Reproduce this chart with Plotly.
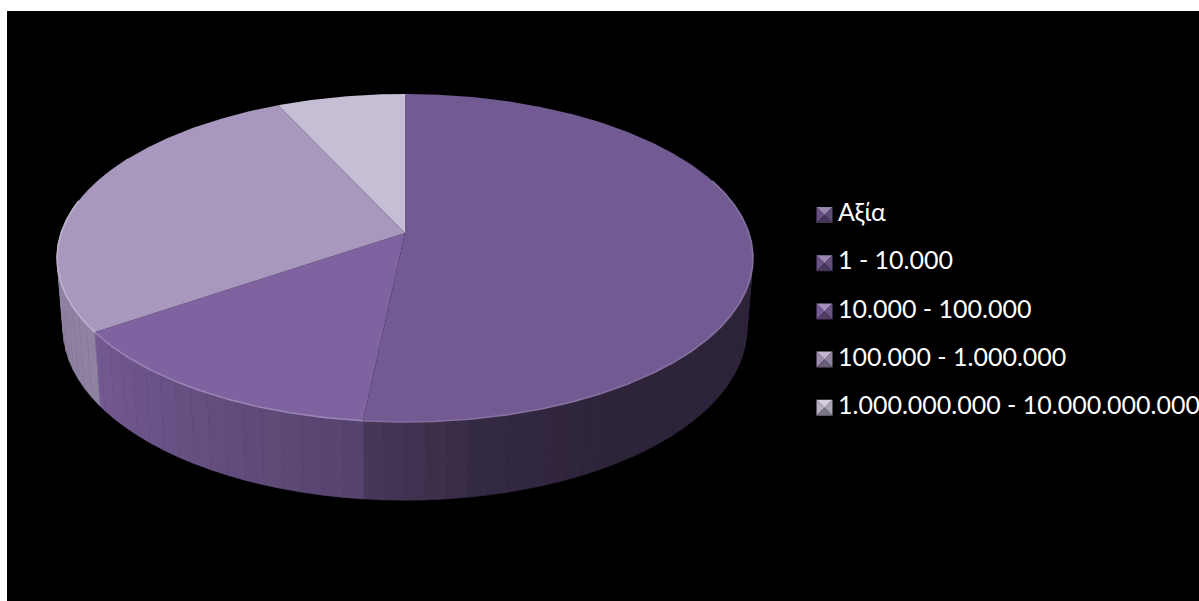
import math
import plotly.graph_objects as go

# Share of each value band, in percent
categories = ["Αξία", "1 - 10.000", "10.000 - 100.000", "100.000 - 1.000.000",
              "1.000.000.000 - 10.000.000.000"]
shares = [0, 51.7, 13.8, 27.7, 6.9]

# Slice tints
tints = [(112, 88, 144), (114, 90, 146), (127, 99, 161), (168, 152, 189), (198, 190, 213)]

W, H = 1199, 601
CX = 405
K = 0.1524  # foreshortening of the disc towards the far edge


def project(deg, level):
    """Map a clockwise angle from 12 o'clock onto the top (0) or bottom (1) disc."""
    a = math.radians(deg)
    u, v = math.sin(a), math.cos(a)
    w = 1 + K * v
    if level == 0:
        return CX + 343.9 * u / w, 233 - 160.2 * v / w
    return CX + 338 * u / w, 302 - 168 * v / w


def hexa(rgb, f=1.0):
    return "rgb(%d,%d,%d)" % tuple(min(255, max(0, round(c * f))) for c in rgb)


def mix(rgb, other, t):
    return "rgb(%d,%d,%d)" % tuple(round(c + (o - c) * t) for c, o in zip(rgb, other))


def lerp_table(table, x):
    for (x0, y0), (x1, y1) in zip(table, table[1:]):
        if x <= x1:
            return y0 + (y1 - y0) * (max(x, x0) - x0) / (x1 - x0)
    return table[-1][1]


def side_shade(deg):
    # Wall brightness around the rim: dark on the right, brighter towards the left
    if deg < 186.2:
        return lerp_table([(60, 0.39), (150, 0.40), (170, 0.47), (186, 0.62)], deg)
    if deg < 235.6:
        return lerp_table([(186, 0.68), (200, 0.74), (235, 0.90)], deg)
    return 0.85


# Cumulative slice boundaries in degrees
total = sum(shares)
bounds = [0.0]
for s in shares:
    bounds.append(bounds[-1] + 360 * s / total)

fig = go.Figure()

# Outer wall of the disc, built from narrow shaded strips
STEP = 3.0
for i, tint in enumerate(tints):
    a0, a1 = max(bounds[i], 60), min(bounds[i + 1], 300)
    a = a0
    while a < a1 - 1e-6:
        b = min(a + STEP, a1)
        pts = [project(a, 0), project(b, 0), project(b, 1), project(a, 1), project(a, 0)]
        col = hexa(tint, side_shade((a + b) / 2))
        fig.add_trace(go.Scatter(
            x=[p[0] for p in pts], y=[p[1] for p in pts], mode="lines", fill="toself",
            fillcolor=col, line=dict(color=col, width=0.6), hoverinfo="skip", showlegend=False))
        a = b

# Top faces of the slices
for i, tint in enumerate(tints):
    if shares[i] == 0:
        continue
    n = max(2, int((bounds[i + 1] - bounds[i]) / 0.5))
    rim = [project(bounds[i] + (bounds[i + 1] - bounds[i]) * j / n, 0) for j in range(n + 1)]
    xs = [CX] + [p[0] for p in rim] + [CX]
    ys = [233] + [p[1] for p in rim] + [233]
    fig.add_trace(go.Scatter(
        x=xs, y=ys, mode="lines", fill="toself", fillcolor=hexa(tint),
        line=dict(width=0), name=categories[i], hoverinfo="name", showlegend=False))

# Soft bevel along the near edge of the top face
for i, tint in enumerate(tints):
    a0, a1 = max(bounds[i], 70), min(bounds[i + 1], 282)
    if a1 <= a0:
        continue
    n = int((a1 - a0) / 0.5) + 1
    rim = [project(a0 + (a1 - a0) * j / n, 0) for j in range(n + 1)]
    strength = {1: 0.14, 2: 0.22, 3: 0.25}.get(i, 0.2)
    fig.add_trace(go.Scatter(
        x=[p[0] for p in rim], y=[p[1] for p in rim], mode="lines",
        line=dict(color=mix(tint, (255, 255, 255), strength), width=1.6),
        hoverinfo="skip", showlegend=False))

# Key: bevelled squares and their labels
KEY_X, KEY_Y, KEY_GAP, KEY_R = 824.5, 215, 48.2, 8
for i, tint in enumerate(tints):
    cy = KEY_Y + i * KEY_GAP
    l, r, t, b = KEY_X - KEY_R, KEY_X + KEY_R, cy - KEY_R, cy + KEY_R
    faces = [
        ([l, r, KEY_X], [t, t, cy], mix(tint, (255, 255, 255), 0.28)),
        ([l, KEY_X, l], [t, cy, b], hexa(tint, 0.92)),
        ([r, KEY_X, r], [t, cy, b], hexa(tint, 0.85)),
        ([l, r, KEY_X], [b, b, cy], hexa(tint, 0.62)),
    ]
    for fx, fy, col in faces:
        fig.add_trace(go.Scatter(
            x=fx + fx[:1], y=fy + fy[:1], mode="lines", fill="toself", fillcolor=col,
            line=dict(width=0), hoverinfo="skip", showlegend=False))

fig.add_trace(go.Scatter(
    x=[838] * len(categories), y=[KEY_Y + i * KEY_GAP for i in range(len(categories))],
    text=categories, mode="text", textposition="middle right",
    textfont=dict(family="Lato, 'Noto Sans', sans-serif", size=25, color="white"),
    hoverinfo="skip", showlegend=False))

fig.update_layout(
    width=W, height=H, margin=dict(l=0, r=0, t=0, b=0),
    paper_bgcolor="white", plot_bgcolor="black", showlegend=False,
    xaxis=dict(domain=[7 / W, 1], range=[7, W], visible=False, fixedrange=True),
    yaxis=dict(domain=[0, 1 - 11 / H], range=[H, 11], visible=False, fixedrange=True),
)

fig.write_html("out.html")
